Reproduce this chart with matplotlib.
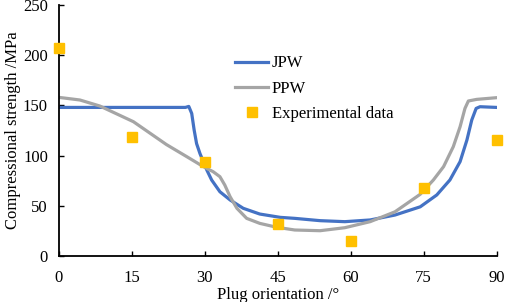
import matplotlib.pyplot as plt
import numpy as np

plt.rcParams['font.family'] = 'Liberation Serif'
plt.rcParams['font.size'] = 12

# JPW model curve
jpw_x = [0, 10, 20, 26, 26.7, 27.3, 27.8, 28.3, 29.0, 29.7, 30.4, 31.4, 33.1, 35.2, 37.9,
         41.3, 45.5, 48.5, 53.7, 58.8, 64, 69.1, 74.3, 77.7, 80.4, 82.5, 83.9, 84.9, 85.8,
         86.6, 90]
jpw_y = [148, 148, 148, 148, 149, 142, 125.5, 112, 102, 94, 85.7, 75.7, 64, 55.8, 47.5,
         41.8, 38.5, 37.5, 35.2, 34.2, 35.9, 40.8, 49, 60.8, 75.7, 94, 115.5, 135.5, 147,
         148.7, 148]

# PPW model curve
ppw_x = [0, 4.3, 8.4, 15.3, 22.1, 26.3, 29.7, 31.7, 33.1, 34.1, 35.2, 36.6, 38.6, 41.3,
         44.8, 48.5, 53.7, 58.8, 64, 69.1, 74.3, 77, 79.1, 81.1, 82.5, 83.5, 84.2, 85.9, 90]
ppw_y = [158, 155.4, 149.4, 133.8, 111, 98.9, 89, 84, 79, 70.7, 59, 47.5, 37.5, 32.5,
         28.6, 25.9, 25.2, 28.2, 34.2, 44, 61.5, 75.7, 89, 108.9, 128.8, 147, 154.4, 156, 157.7]

# experimental points
exp_x = [0, 15, 30, 45, 60, 75, 90]
exp_y = [207.5, 119, 93.5, 31.5, 15, 68, 116]

fig = plt.figure(figsize=(5.05, 3.02), dpi=100)
ax = fig.add_axes([0.1168, 0.1523, 0.8665, 0.8311])

ax.plot(jpw_x, jpw_y, color='#4472C4', lw=2.3, label='JPW', solid_joinstyle='round')
ax.plot(ppw_x, ppw_y, color='#A5A5A5', lw=2.3, label='PPW', solid_joinstyle='round')
ax.plot(exp_x, exp_y, 's', color='#FFC000', ms=7, label='Experimental data', clip_on=False, zorder=5)

ax.set_xlim(0, 90)
ax.set_ylim(0, 250)
ax.set_xticks(range(0, 91, 15))
ax.set_yticks(range(0, 251, 50))
ax.tick_params(direction='in', length=3.5, width=1, labelsize=12)
ax.tick_params(axis='x', pad=10)
ax.tick_params(axis='y', pad=8)
for s in ['top', 'right']:
    ax.spines[s].set_visible(False)
for s in ['left', 'bottom']:
    ax.spines[s].set_linewidth(1.3)

ax.set_xlabel('Plug orientation /°', labelpad=1)
ax.set_ylabel('Compressional strength /MPa', labelpad=1)

ax.legend(loc='center left', bbox_to_anchor=(0.402, 0.667), frameon=False,
          borderaxespad=0, borderpad=0, handlelength=2, handletextpad=0.2, labelspacing=0.55)

plt.savefig('out.png')
